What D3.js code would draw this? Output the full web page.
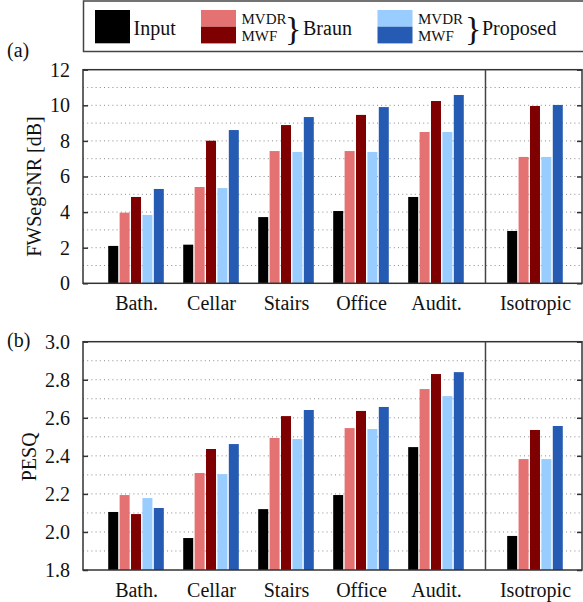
<!DOCTYPE html>
<html><head><meta charset="utf-8">
<script src="https://cdn.jsdelivr.net/npm/d3@7"></script>
<style>body{margin:0;background:#fff}svg{display:block}text{font-family:"Liberation Serif","DejaVu Serif",serif;fill:#111}</style>
</head><body>
<script>
const categories = ["Bath.", "Cellar", "Stairs", "Office", "Audit.", "Isotropic"];
const seriesNames = ["Input", "Braun MVDR", "Braun MWF", "Proposed MVDR", "Proposed MWF"];
const seriesColors = ["#000000", "#e47272", "#7f0000", "#99ccff", "#265bb4"];

// FWSegSNR [dB]
const snrInput        = [2.10, 2.17, 3.72, 4.06, 4.85, 2.94];
const snrBraunMVDR    = [3.97, 5.41, 7.43, 7.43, 8.50, 7.10];
const snrBraunMWF     = [4.85, 8.01, 8.89, 9.46, 10.24, 9.96];
const snrProposedMVDR = [3.84, 5.35, 7.38, 7.38, 8.50, 7.10];
const snrProposedMWF  = [5.30, 8.61, 9.34, 9.90, 10.58, 10.02];

// PESQ
const pesqInput        = [2.105, 1.968, 2.120, 2.194, 2.446, 1.979];
const pesqBraunMVDR    = [2.194, 2.310, 2.494, 2.546, 2.751, 2.383];
const pesqBraunMWF     = [2.094, 2.436, 2.609, 2.636, 2.830, 2.536];
const pesqProposedMVDR = [2.178, 2.304, 2.488, 2.541, 2.714, 2.383];
const pesqProposedMWF  = [2.126, 2.462, 2.641, 2.657, 2.840, 2.557];

const snrTicks = [0, 2, 4, 6, 8, 10, 12];
const pesqTicks = [1.8, 2.0, 2.2, 2.4, 2.6, 2.8, 3.0];

const W = 583, H = 602;
const svg = d3.select("body").append("svg").attr("width", W).attr("height", H);

// category position: rooms consecutive, isotropic set apart
const catPos = categories.map((c, i) => i < 5 ? i : i + 0.32);
const x = d3.scaleLinear().domain([-0.707, 5.947]).range([83, 582]);
const xs = d3.scaleBand().domain(seriesNames).range([-27.8, 27.8]).paddingInner(0.123);
const sepPos = (catPos[4] + catPos[5]) / 2;

function panel(opts) {
  const {top, bottom, domain, ticks, grid, values, fmt, title, titleX, label, labelY} = opts;
  const y = d3.scaleLinear().domain(domain).range([bottom, top]);
  const g = svg.append("g");
  // dotted grid
  g.selectAll("line.grid").data(grid).join("line")
    .attr("x1", x.range()[0]).attr("x2", x.range()[1])
    .attr("y1", d => y(d)).attr("y2", d => y(d))
    .attr("stroke", "#8a8a8a").attr("stroke-width", 1).attr("stroke-dasharray", "1,3.2");
  // bars
  seriesNames.forEach((s, k) => {
    g.selectAll(null).data(values[k]).join("rect")
      .attr("x", (d, i) => x(catPos[i]) + xs(s))
      .attr("width", xs.bandwidth())
      .attr("y", d => y(d))
      .attr("height", d => y(domain[0]) - y(d))
      .attr("fill", seriesColors[k]);
  });
  // left axis with inward ticks
  const ax = d3.axisLeft(y).tickValues(ticks).tickSizeInner(-5).tickSizeOuter(0).tickPadding(13).tickFormat(fmt);
  const axg = g.append("g").attr("transform", `translate(${x.range()[0]},0)`).call(ax);
  axg.select(".domain").remove();
  axg.selectAll("line").attr("stroke", "#333").attr("stroke-width", 1.5);
  axg.selectAll("text").attr("font-size", 20).attr("font-family", "Liberation Serif").attr("fill", "#222");
  const axr = d3.axisRight(y).tickValues(ticks).tickSizeInner(-5).tickSizeOuter(0).tickFormat("");
  const arg = g.append("g").attr("transform", `translate(${x.range()[1]},0)`).call(axr);
  arg.select(".domain").remove();
  arg.selectAll("line").attr("stroke", "#333").attr("stroke-width", 1.5);
  // frame
  g.append("rect").attr("x", x.range()[0]).attr("y", top)
    .attr("width", x.range()[1] - x.range()[0]).attr("height", bottom - top)
    .attr("fill", "none").attr("stroke", "#333").attr("stroke-width", 1.5);
  // separator
  g.append("line").attr("x1", x(sepPos)).attr("x2", x(sepPos)).attr("y1", top).attr("y2", bottom)
    .attr("stroke", "#444").attr("stroke-width", 1.5);
  // category labels
  const xa = d3.axisBottom(x).tickValues(catPos).tickSize(0).tickPadding(0).tickFormat((d, i) => categories[i]);
  const xg = g.append("g").attr("transform", `translate(0,${bottom})`).call(xa);
  xg.select(".domain").remove();
  xg.selectAll("text").attr("font-size", 20).attr("font-family", "Liberation Serif").attr("fill", "#222")
    .attr("dy", null).attr("y", 27);
  // y title
  g.append("text").attr("transform", `translate(${titleX},${(top + bottom) / 2 + opts.titleShift}) rotate(-90)`)
    .attr("text-anchor", "middle").attr("font-size", 20).text(title);
  g.append("text").attr("x", 7).attr("y", labelY).attr("font-size", 20).text(label);
}

panel({top: 69.7, bottom: 283.3, domain: [0, 12], ticks: snrTicks,
  grid: d3.range(1, 12), fmt: d3.format("d"),
  values: [snrInput, snrBraunMVDR, snrBraunMWF, snrProposedMVDR, snrProposedMWF],
  title: "FWSegSNR [dB]", titleX: 41, titleShift: 10, label: "(a)", labelY: 57});

panel({top: 341.7, bottom: 570, domain: [1.8, 3.0], ticks: pesqTicks,
  grid: d3.range(19, 30).map(v => v / 10), fmt: d3.format(".1f"),
  values: [pesqInput, pesqBraunMVDR, pesqBraunMWF, pesqProposedMVDR, pesqProposedMWF],
  title: "PESQ", titleX: 36, titleShift: 1, label: "(b)", labelY: 347});

// legend
const lg = svg.append("g");
lg.append("rect").attr("x", 83.5).attr("y", 1).attr("width", 520).attr("height", 50.5)
  .attr("fill", "#fff").attr("stroke", "#444").attr("stroke-width", 1.5);
lg.append("rect").attr("x", 95).attr("y", 10).attr("width", 35).attr("height", 33.3).attr("fill", seriesColors[0]);
lg.append("text").attr("x", 133.5).attr("y", 35).attr("font-size", 20).text(seriesNames[0]);
const groups = [
  {name: "Braun", x0: 201, brace: 84, text: 102, c: [seriesColors[1], seriesColors[2]]},
  {name: "Proposed", x0: 377.5, brace: 87.5, text: 104.5, c: [seriesColors[3], seriesColors[4]]}
];
groups.forEach(gr => {
  lg.append("rect").attr("x", gr.x0).attr("y", 10).attr("width", 35).attr("height", 16.7).attr("fill", gr.c[0]);
  lg.append("rect").attr("x", gr.x0).attr("y", 26.7).attr("width", 35).attr("height", 16.7).attr("fill", gr.c[1]);
  lg.append("text").attr("x", gr.x0 + 40.5).attr("y", 23.5).attr("font-size", 15).text("MVDR");
  lg.append("text").attr("x", gr.x0 + 40.5).attr("y", 41).attr("font-size", 15).text("MWF");
  lg.append("text").attr("x", gr.x0 + gr.brace).attr("y", 39.5).attr("font-size", 34).text("}");
  lg.append("text").attr("x", gr.x0 + gr.text).attr("y", 35).attr("font-size", 20).text(gr.name);
});
</script>
</body></html>
